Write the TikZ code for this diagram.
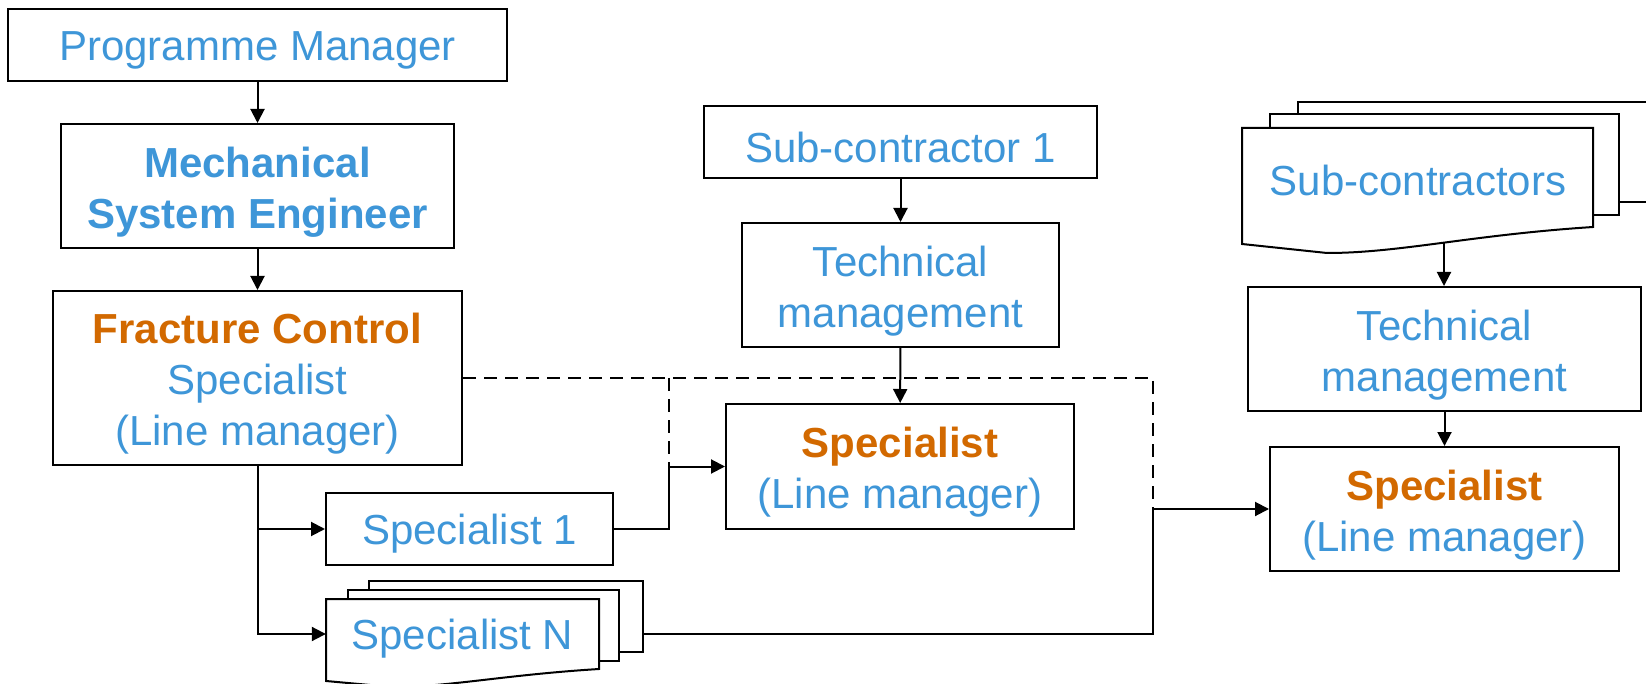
\documentclass[tikz,border=0pt]{standalone}
\usepackage{fontspec}
\setmainfont{Liberation Sans}
\usetikzlibrary{arrows.meta}
\definecolor{tblue}{RGB}{62,150,216}
\definecolor{torange}{RGB}{210,105,0}
\tikzset{
 box/.style={draw, line width=2pt, fill=white, inner sep=0pt},
 txt/.style={inner sep=0pt, align=center, font=\fontsize{42}{51}\selectfont, text=tblue},
 lbl/.style={inner sep=0pt, font=\fontsize{42}{51}\selectfont, text=tblue},
 conn/.style={line width=2pt, -{Triangle[length=14pt,width=14pt]}},
 dashline/.style={line width=2pt, dash pattern=on 13pt off 8pt},
 doc/.style={draw, line width=2pt, fill=white, line join=miter},
}
\newcommand{\hlor}[1]{{\bfseries\color{torange}#1}}
\begin{document}
\begin{tikzpicture}[x=1pt,y=-1pt]
\useasboundingbox (0,0) rectangle (1646,684);
% left column
\node[box, minimum width=499pt, minimum height=72pt] (pm) at (257.5,45) {};
\node[txt] at ([yshift=-5pt]pm.center) {Programme Manager};
\node[box, minimum width=393pt, minimum height=124pt] (mse) at (257.5,186) {};
\node[txt, font=\fontsize{42}{51}\selectfont\bfseries] at ([yshift=-6pt]mse.center) {Mechanical\\System Engineer};
\node[box, minimum width=409pt, minimum height=174pt] (fcs) at (257.5,378) {};
\node[txt] at ([yshift=-6pt]fcs.center) {\hlor{Fracture Control}\\Specialist\\(Line manager)};
\node[box, minimum width=287pt, minimum height=72pt] (sp1) at (469.5,529) {};
\node[txt] at ([yshift=-5pt]sp1.center) {Specialist 1};
% Specialist N stack
\draw[doc] (369,581) rectangle (643,652);
\draw[doc] (348,590) rectangle (619,661);
\draw[doc] (326,599) -- (599,599) -- (599,669) .. controls (503,675) and (449,687) .. (392,687) -- (326,681) -- cycle;
\node[minimum width=273pt, minimum height=70pt, inner sep=0pt] (spN) at (462.5,634) {};
\node[lbl] at ([yshift=-5pt]spN.center) {Specialist N};
\coordinate (spNe) at (643,634);
% middle column
\node[box, minimum width=393pt, minimum height=72pt] (sc1) at (900.5,142) {};
\node[txt] at ([yshift=-5pt]sc1.center) {Sub-contractor 1};
\node[box, minimum width=317pt, minimum height=124pt] (tm1) at (900.5,285) {};
\node[txt] at ([yshift=-6pt]tm1.center) {Technical\\management};
\node[box, minimum width=348pt, minimum height=125pt] (spm) at (900,466.5) {};
\node[txt] at ([yshift=-6pt]spm.center) {\hlor{Specialist}\\(Line manager)};
% right column
\draw[doc] (1298,102) rectangle (1660,202);
\draw[doc] (1270,114) rectangle (1619,215);
\draw[doc] (1242,128) -- (1593,128) -- (1593,227) .. controls (1470,235) and (1400,253) .. (1327,253) -- (1242,244) -- cycle;
\node[lbl, anchor=base] (scs) at (1418,196) {Sub-contractors};
\coordinate (scsb) at (1444,242);
\node[box, minimum width=393pt, minimum height=124pt] (tm2) at (1444.5,349) {};
\node[txt] at ([yshift=-6pt]tm2.center) {Technical\\management};
\node[box, minimum width=349pt, minimum height=124pt] (sp2) at (1444.5,509) {};
\node[txt] at ([yshift=-6pt]sp2.center) {\hlor{Specialist}\\(Line manager)};
% helper columns
\coordinate (jx) at (669,0);
\coordinate (jy) at (1153,0);
% connectors
\draw[conn] (pm) -- (mse);
\draw[conn] (mse) -- (fcs);
\draw[conn] (fcs.south) |- (spN.west);
\draw[conn] (fcs.south |- sp1.west) -- (sp1.west);
\draw[conn] (sc1) -- (tm1);
\draw[conn] (tm1) -- (spm);
\draw[dashline] (fcs.east) -| (jy |- sp2.west);
\draw[dashline] (jx |- fcs.east) -- (jx |- spm.west);
\draw[conn] (sp1.east) -| (jx |- spm.west) -- (spm.west);
\draw[conn] (spNe) -| (jy |- sp2.west) -- (sp2.west);
\draw[conn] (scsb) -- (scsb |- tm2.north);
\draw[conn] (tm2) -- (sp2);
\end{tikzpicture}
\end{document}
